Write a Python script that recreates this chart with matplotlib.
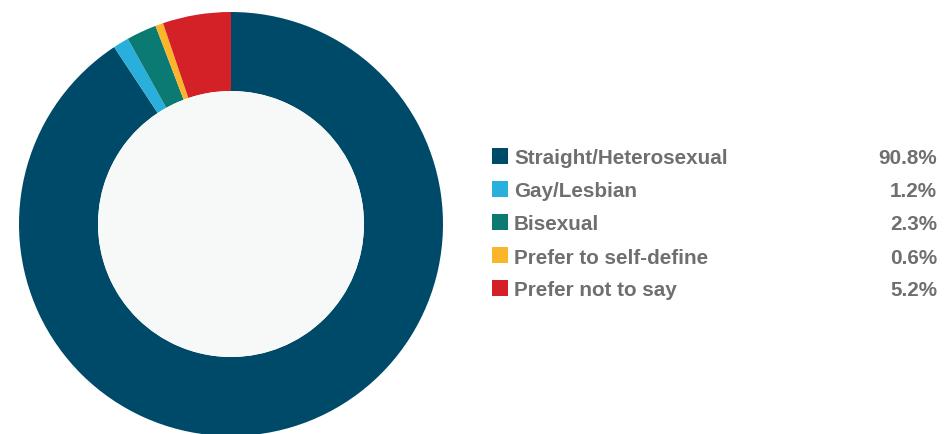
import matplotlib
matplotlib.use("Agg")
import matplotlib.pyplot as plt
from matplotlib.patches import Circle, Rectangle

categories = ["Straight/Heterosexual", "Gay/Lesbian", "Bisexual",
              "Prefer to self-define", "Prefer not to say"]
values = [90.8, 1.2, 2.3, 0.6, 5.2]
colors = ["#004a69", "#29afdc", "#0b7a72", "#fbb52a", "#d42027"]
pct_labels = [f"{v:.1f}%" for v in values]

W, H = 950, 435
fig = plt.figure(figsize=(W / 100, H / 100), dpi=100)
fig.patch.set_facecolor("white")
ax = fig.add_axes([0, 0, 1, 1])
ax.set_xlim(0, W)
ax.set_ylim(0, H)
ax.set_aspect("equal")
ax.axis("off")

cx, cy = 231, H - 225
r_out, r_in = 212, 133

ax.pie(values, colors=colors, startangle=90, counterclock=False,
       radius=r_out, center=(cx, cy), frame=True,
       wedgeprops=dict(width=r_out - r_in, linewidth=0, antialiased=True))
ax.add_patch(Circle((cx, cy), r_in, facecolor="#f7f9f9", edgecolor="none", zorder=3))
ax.set_xlim(0, W)
ax.set_ylim(0, H)
ax.axis("off")

# legend rows
text_color = "#6f6f6f"
font = ["Liberation Sans", "DejaVu Sans"]
y0, dy = H - 157, 33
for i, (cat, col, pl) in enumerate(zip(categories, colors, pct_labels)):
    y = y0 - i * dy
    ax.add_patch(Rectangle((492, y - 8), 16, 16, facecolor=col, edgecolor="none"))
    ax.text(514, y, cat, fontsize=14.9, fontweight="bold", color=text_color,
            family=font, va="center_baseline", ha="left")
    ax.text(937, y, pl, fontsize=14.9, fontweight="bold", color=text_color,
            family=font, va="center_baseline", ha="right")

fig.savefig("out.png", dpi=100, facecolor="white")
